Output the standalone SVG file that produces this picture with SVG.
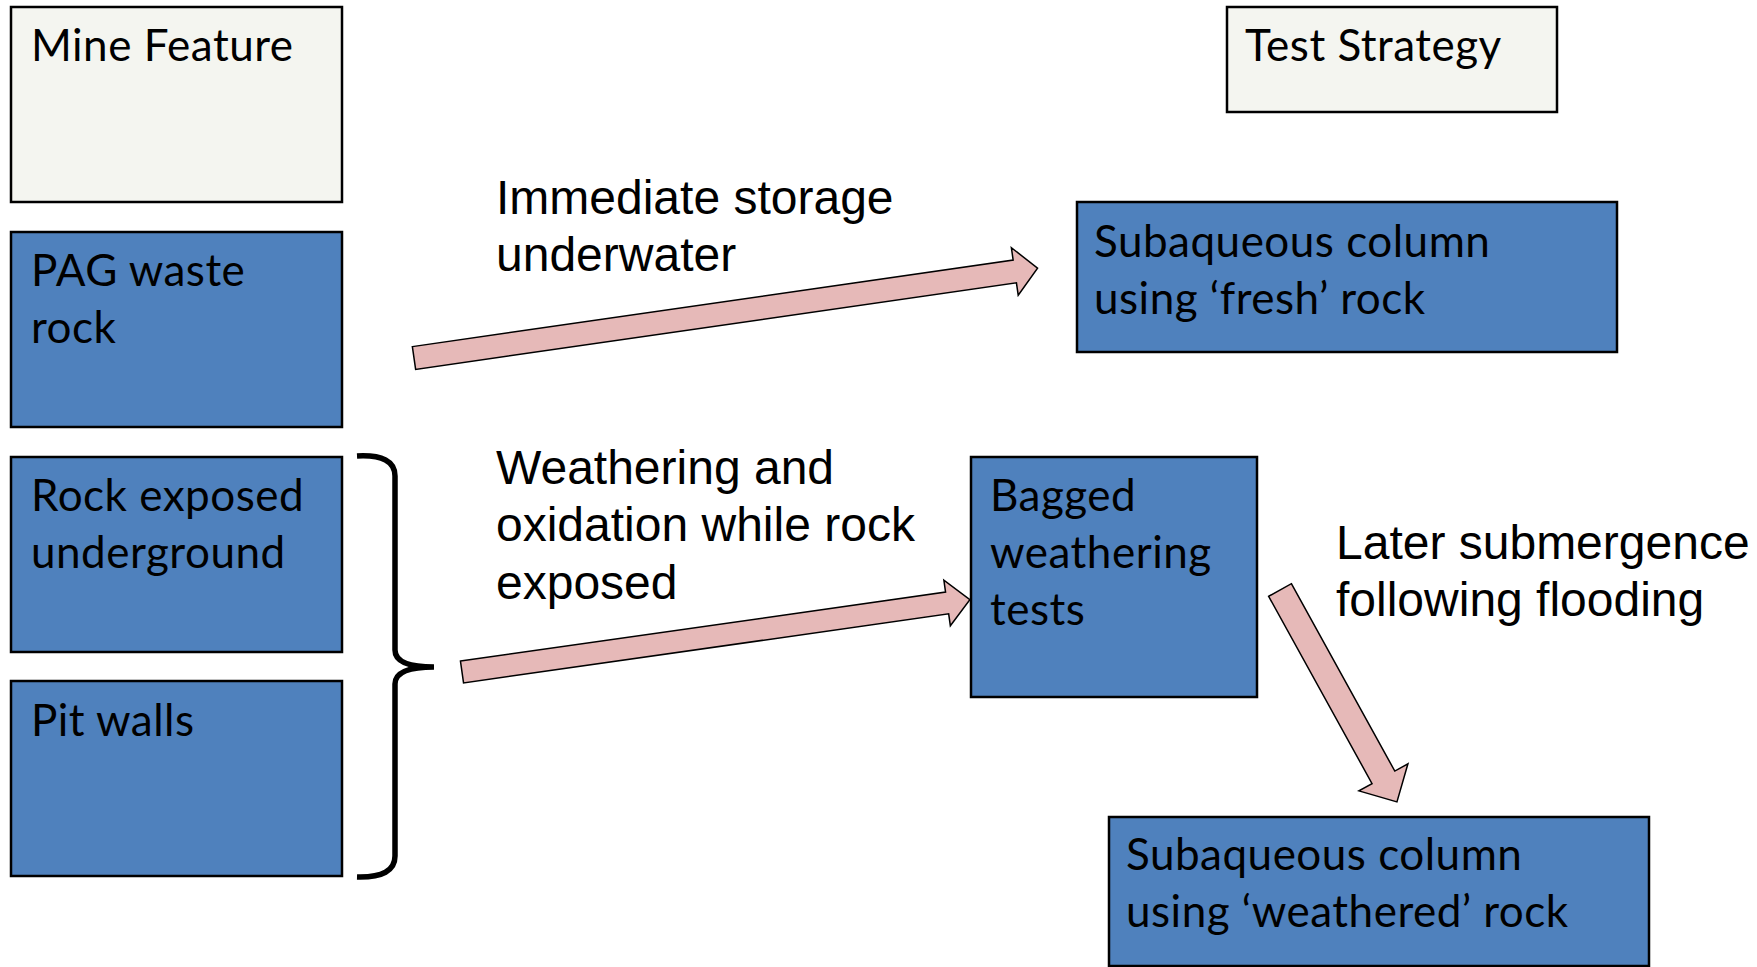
<svg xmlns="http://www.w3.org/2000/svg" width="1757" height="967" viewBox="0 0 1757 967">
<style>
.hdr{fill:#F4F5F0;stroke:#000;stroke-width:2.5}
.blue{fill:#4F81BD;stroke:#000;stroke-width:2.5}
.t{font-family:Lato,"Open Sans",sans-serif;font-size:44px;letter-spacing:0.5px;fill:#000}
.lbl{font-family:"Liberation Sans",Arial,sans-serif;font-size:48px;fill:#000}
.arr{fill:#E6B9B8;stroke:#000;stroke-width:1.5;stroke-linejoin:miter}
</style>
<rect width="1757" height="967" fill="#fff"/>
<g id="mine-feature"><rect class="hdr" x="11" y="7" width="331" height="195"/><text class="t" x="31" y="61">Mine Feature</text></g>
<g id="pag"><rect class="blue" x="11" y="232" width="331" height="195"/><text class="t" x="31" y="286">PAG waste<tspan x="31" dy="57">rock</tspan></text></g>
<g id="rock-underground"><rect class="blue" x="11" y="457" width="331" height="195"/><text class="t" x="31" y="511">Rock exposed<tspan x="31" dy="57">underground</tspan></text></g>
<g id="pit-walls"><rect class="blue" x="11" y="681" width="331" height="195"/><text class="t" x="31" y="736">Pit walls</text></g>
<g id="test-strategy"><rect class="hdr" x="1227" y="7" width="330" height="105"/><text class="t" x="1245" y="61">Test Strategy</text></g>
<g id="sub-fresh"><rect class="blue" x="1077" y="202" width="540" height="150"/><text class="t" x="1094" y="257">Subaqueous column<tspan x="1094" dy="57">using ‘fresh’ rock</tspan></text></g>
<g id="bagged"><rect class="blue" x="971" y="457" width="286" height="240"/><text class="t" x="990" y="511">Bagged<tspan x="990" dy="57">weathering</tspan><tspan x="990" dy="57">tests</tspan></text></g>
<g id="sub-weathered"><rect class="blue" x="1109" y="817" width="540" height="149"/><text class="t" x="1126" y="870">Subaqueous column<tspan x="1126" dy="57">using ‘weathered’ rock</tspan></text></g>
<g id="connectors">
<path d="M357,456 Q395,454 395,476 L395,650 Q395,667 434,667 Q395,667 395,684 L395,856 Q395,878 357,877" fill="none" stroke="#000" stroke-width="5.5"/>
<polygon class="arr" transform="translate(414,358) rotate(-8.2)" points="0,-11.5 607,-11.5 607,-24 630,0 607,24 607,11.5 0,11.5"/>
<polygon class="arr" transform="translate(462,672) rotate(-8.1)" points="0,-11 490,-11 490,-23 513,0 490,23 490,11 0,11"/>
<polygon class="arr" transform="translate(1280,590) rotate(61.1)" points="0,-13 214,-13 214,-28 242,0 214,28 214,13 0,13"/>
<text class="lbl" x="496" y="214">Immediate storage<tspan x="496" dy="57">underwater</tspan></text>
<text class="lbl" x="496" y="484">Weathering and<tspan x="496" dy="57">oxidation while rock</tspan><tspan x="496" dy="58">exposed</tspan></text>
<text class="lbl" x="1336" y="559">Later submergence<tspan x="1336" dy="57">following flooding</tspan></text>
</g>
</svg>
